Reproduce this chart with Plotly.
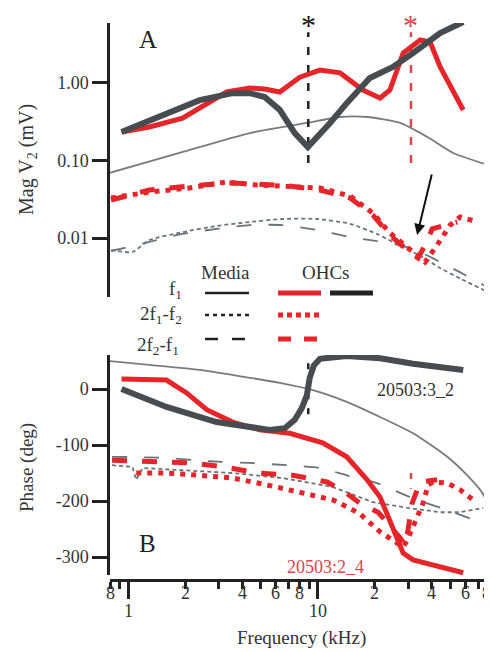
import math
import plotly.graph_objects as go

# ---------------- data ----------------
# Panel A: magnitude (mV) vs frequency (kHz)
freq_mag_ohc_dark = [0.92, 1.59, 2.38, 3.55, 4.37, 5.24, 6.29, 7.55, 8.85, 11.6, 14.2, 18.8, 24.9, 31.8, 44.2, 58.5]
mag_f1_ohc_dark = [0.233, 0.41, 0.60, 0.74, 0.74, 0.66, 0.45, 0.226, 0.149, 0.305, 0.55, 1.16, 1.61, 2.44, 4.42, 6.12]

freq_mag_ohc_red = [0.92, 1.29, 1.93, 2.59, 3.30, 4.37, 5.24, 6.29, 8.03, 10.25, 13.1, 17.3, 21.3, 24.0, 28.2, 34.7, 39.1, 44.2, 49.9, 58.5]
mag_f1_ohc_red = [0.233, 0.271, 0.353, 0.552, 0.765, 0.861, 0.837, 0.765, 1.19, 1.47, 1.35, 0.812, 0.640, 0.812, 2.44, 3.59, 3.38, 1.61, 0.942, 0.448]

freq_mag_media_f1 = [0.79, 1.86, 4.37, 8.75, 13.1, 18.2, 27.2, 37.8, 51.8, 79.3]
mag_f1_media = [0.069, 0.125, 0.226, 0.305, 0.364, 0.364, 0.305, 0.201, 0.125, 0.0875]

freq_mag_ohc_2f1f2 = [0.81, 1.29, 2.10, 3.30, 4.75, 7.11, 10.25, 14.8, 19.5, 24.0, 29.6, 33.8, 36.8, 42.6, 49.9, 56.4, 69.4]
mag_2f1f2_ohc = [0.0328, 0.0392, 0.0442, 0.0528, 0.0483, 0.0455, 0.0442, 0.0348, 0.0210, 0.0116, 0.0077, 0.0057, 0.0049, 0.0081, 0.0147, 0.0187, 0.0161]

freq_mag_ohc_2f2f1 = [0.81, 1.29, 2.10, 3.30, 4.75, 7.11, 10.25, 14.8, 19.5, 24.0, 29.6, 33.8, 36.8, 40.1, 49.9, 54.4]
mag_2f2f1_ohc = [0.0309, 0.0416, 0.0469, 0.0513, 0.0497, 0.0469, 0.0416, 0.0328, 0.0198, 0.0109, 0.0070, 0.0055, 0.0081, 0.0131, 0.0152, 0.0161]

freq_mag_media_2f1f2 = [0.81, 1.05, 1.29, 1.93, 2.92, 4.37, 6.53, 9.88, 14.8, 20.5, 27.2, 34.7, 44.2, 56.4, 79.3]
mag_2f1f2_media = [0.0070, 0.0066, 0.0094, 0.0119, 0.0143, 0.0161, 0.0176, 0.0176, 0.0152, 0.0113, 0.0079, 0.0059, 0.0041, 0.0030, 0.0020]

freq_mag_media_2f2f1 = [0.81, 1.29, 1.93, 2.92, 4.37, 6.53, 9.88, 14.8, 20.5, 27.2, 34.7, 44.2, 56.4, 79.3]
mag_2f2f1_media = [0.0068, 0.0089, 0.0113, 0.0131, 0.0147, 0.0147, 0.0127, 0.0103, 0.0091, 0.0081, 0.0066, 0.0049, 0.0036, 0.0023]

# Panel B: phase (deg) vs frequency (kHz)
freq_ph_media_f1 = [0.79, 1.29, 2.38, 4.37, 6.29, 9.41, 14.2, 21.3, 31.8, 48.2, 61.4, 71.9, 79.3]
ph_f1_media = [50, 43, 34, 20, 11, -2, -23, -50, -79, -121, -154, -180, -204]

freq_ph_ohc_dark = [0.92, 1.59, 2.92, 4.37, 5.57, 6.69, 7.55, 8.23, 8.75, 9.06, 9.52, 10.25, 14.2, 21.3, 31.8, 58.5]
ph_f1_ohc_dark = [0, -32, -59, -68, -73, -70, -55, -34, -11, 20, 42, 54, 59, 55, 45, 34]

freq_ph_ohc_red = [0.92, 1.59, 2.03, 2.59, 3.55, 4.37, 4.93, 7.11, 10.6, 14.2, 18.2, 21.3, 24.0, 26.2, 28.2, 31.8, 44.2, 58.5]
ph_f1_ohc_red = [18, 16, -7, -37, -59, -68, -73, -79, -96, -121, -162, -193, -234, -264, -293, -305, -318, -328]

freq_ph_ohc_2f1f2 = [1.10, 1.59, 2.38, 3.55, 5.37, 8.03, 12.0, 14.4, 16.7, 21.3, 24.9, 28.2, 29.6, 31.4, 33.4, 35.9, 38.2, 40.6, 48.2, 56.4, 66.1]
ph_2f1f2_ohc = [-150, -150, -154, -159, -171, -184, -198, -211, -223, -255, -270, -282, -270, -248, -229, -204, -171, -166, -168, -180, -198]

freq_ph_ohc_2f2f1 = [0.82, 1.37, 2.10, 3.22, 4.81, 7.38, 11.2, 13.9, 16.7, 20.8, 24.0, 27.2, 28.8, 29.9, 31.4, 34.7, 42.6]
ph_2f2f1_ohc = [-127, -130, -132, -139, -150, -154, -166, -184, -204, -220, -243, -266, -279, -252, -204, -166, -162]

freq_ph_media_2f2f1 = [0.82, 1.59, 2.68, 4.37, 6.84, 10.25, 14.2, 20.5, 24.9, 33.4, 48.2, 78.4]
ph_2f2f1_media = [-121, -123, -129, -132, -136, -141, -154, -168, -180, -198, -216, -243]

freq_ph_media_2f1f2 = [0.82, 1.05, 1.10, 1.19, 1.93, 3.55, 6.53, 12.0, 19.5, 29.6, 44.2, 56.4, 74.6]
ph_2f1f2_media = [-136, -139, -162, -141, -145, -150, -159, -175, -202, -212, -220, -220, -212]

# marker frequencies (asterisks) and their dashed lines
star_freq_dark = 8.9
star_freq_red = 31.0
star_mag_span = [0.093, 4.5]
star_ph_span_dark = [46, -61]
star_ph_span_red = [-150, -178]

x_major_ticks = [1, 10]
x_major_labels = ["1", "10"]
x_minor_ticks = [0.8, 0.9, 2, 3, 4, 5, 6, 7, 8, 9, 20, 30, 40, 50, 60, 70, 80]
x_minor_label_vals = [0.8, 2, 4, 6, 8, 20, 40, 60, 80]
x_minor_labels = ["8", "2", "4", "6", "8", "2", "4", "6", "8"]
mag_ticks = [0.01, 0.1, 1]
mag_tick_labels = ["0.01", "0.10", "1.00"]
ph_ticks = [0, -100, -200, -300]
ph_tick_labels = ["0", "-100", "-200", "-300"]

# ---------------- styling ----------------
# the page body has an 8px margin, so the figure occupies 484x644 starting at (8, 8)
OFF = 8
W, H = 492 - OFF, 652 - OFF
def px(x):
    return (x - OFF) / W
def py(y):
    return 1 - (y - OFF) / H

RED = "#e6252a"
RED_TXT = "#e0414b"
DARK = "#464c50"
GRAY = "#7b7b7b"
BGRAY = "#6b747a"
AX = "#222222"
FONT = "Liberation Serif"

DOT_THICK = "5px,6px"
DASH_THICK = "15px,15px"
DOT_THIN = "4px,3px"
DASH_THIN = "15px,17px"

fig = go.Figure()

def add(x, y, color, width, dash, xa, ya, shape="linear"):
    fig.add_trace(go.Scatter(
        x=x, y=y, mode="lines",
        line=dict(color=color, width=width, dash=dash, shape=shape, smoothing=0.6),
        xaxis=xa, yaxis=ya, hoverinfo="skip", showlegend=False))

# ---- Panel A ----
add(freq_mag_media_f1, mag_f1_media, GRAY, 1.8, "solid", "x", "y", "spline")
add(freq_mag_media_2f2f1, mag_2f2f1_media, BGRAY, 1.8, DASH_THIN, "x", "y", "spline")
add(freq_mag_media_2f1f2, mag_2f1f2_media, BGRAY, 1.8, DOT_THIN, "x", "y", "spline")
add(freq_mag_ohc_2f2f1, mag_2f2f1_ohc, RED, 5, DASH_THICK, "x", "y")
add(freq_mag_ohc_2f1f2, mag_2f1f2_ohc, RED, 5, DOT_THICK, "x", "y")
add([star_freq_dark, star_freq_dark], star_mag_span, AX, 2.5, "8px,10px", "x", "y")
add([star_freq_red, star_freq_red], star_mag_span, "#d9464c", 2.5, "8px,10px", "x", "y")
add(freq_mag_ohc_red, mag_f1_ohc_red, RED, 5, "solid", "x", "y")
add(freq_mag_ohc_dark, mag_f1_ohc_dark, DARK, 6, "solid", "x", "y")

# ---- Panel B ----
add(freq_ph_media_f1, ph_f1_media, GRAY, 1.8, "solid", "x2", "y2", "spline")
add(freq_ph_media_2f2f1, ph_2f2f1_media, BGRAY, 1.8, DASH_THIN, "x2", "y2", "spline")
add(freq_ph_media_2f1f2, ph_2f1f2_media, BGRAY, 1.8, DOT_THIN, "x2", "y2")
add(freq_ph_ohc_2f2f1, ph_2f2f1_ohc, RED, 5, DASH_THICK, "x2", "y2")
add(freq_ph_ohc_2f1f2, ph_2f1f2_ohc, RED, 5, DOT_THICK, "x2", "y2")
add([star_freq_dark, star_freq_dark], star_ph_span_dark, AX, 2.5, "6px,9px", "x2", "y2")
add([star_freq_red, star_freq_red], star_ph_span_red, "#d9464c", 2.5, "6px,9px", "x2", "y2")
add(freq_ph_ohc_red, ph_f1_ohc_red, RED, 5, "solid", "x2", "y2")
add(freq_ph_ohc_dark, ph_f1_ohc_dark, DARK, 6, "solid", "x2", "y2")

xdom = [px(110), px(489)]
xrange = [math.log10(0.8), math.log10(80)]

fig.update_layout(
    width=W, height=H,
    margin=dict(l=0, r=0, t=0, b=0),
    paper_bgcolor="white", plot_bgcolor="rgba(0,0,0,0)",
    font=dict(family=FONT, size=18, color=AX),
    showlegend=False,
    xaxis=dict(domain=xdom, type="log", range=xrange, visible=False, anchor="y"),
    yaxis=dict(domain=[py(297), py(23)], type="log", range=[-2.761, 0.774], anchor="x",
               showline=True, linecolor=AX, linewidth=2.5, ticks="outside", ticklen=15,
               tickwidth=2.5, tickcolor=AX, tickvals=mag_ticks, ticktext=mag_tick_labels,
               tickfont=dict(size=18, family=FONT, color="#333"), showgrid=False, zeroline=False),
    xaxis2=dict(domain=xdom, type="log", range=xrange, anchor="free", position=py(580),
                showline=True, linecolor=AX, linewidth=2.5, ticks="outside", ticklen=17,
                tickwidth=2.5, tickcolor=AX, tickvals=x_major_ticks, showticklabels=False,
                minor=dict(tickvals=x_minor_ticks, ticks="outside", ticklen=7, tickwidth=2.5,
                           tickcolor=AX, showgrid=False),
                showgrid=False, zeroline=False),
    yaxis2=dict(domain=[py(575), py(355)], range=[-332, 60.7], anchor="x2",
                showline=True, linecolor=AX, linewidth=2.5, ticks="outside", ticklen=15,
                tickwidth=2.5, tickcolor=AX, tickvals=ph_ticks, ticktext=ph_tick_labels,
                tickfont=dict(size=18, family=FONT, color="#333"), showgrid=False, zeroline=False),
)

ann = []
def text(x, y, s, size=18, color="#333", xanchor="center", yanchor="middle", angle=0,
         xref="paper", yref="paper", xshift=0):
    ann.append(dict(x=x, y=y, text=s, showarrow=False, xref=xref, yref=yref,
                    xanchor=xanchor, yanchor=yanchor, textangle=angle, xshift=xshift,
                    font=dict(family=FONT, size=size, color=color)))

# x tick labels (kept just inside the axis range so none is hidden as off-axis)
def xlab_pos(v):
    return min(max(math.log10(v), xrange[0] + 1e-4), xrange[1] - 1e-4)

for v, lab in zip(x_minor_label_vals, x_minor_labels):
    text(xlab_pos(v), py(593), lab, xref="x2", xshift=(-2 if v == 80 else 0))
for v, lab in zip(x_major_ticks, x_major_labels):
    text(xlab_pos(v), py(611), lab, xref="x2")

# axis titles
text(px(301), py(638), "Frequency (kHz)", size=19)
text(px(27), py(160), "Mag V<sub>2</sub> (mV)", size=20, angle=-90)
text(px(27), py(468), "Phase (deg)", size=19, angle=-90)

# panel letters
text(px(148), py(40), "A", size=25, color="#222")
text(px(147), py(543), "B", size=25, color="#222")

# cell labels
text(px(415), py(390), "20503:3_2", size=18, color="#333")
text(px(325), py(567), "20503:2_4", size=18, color=RED_TXT)

# asterisks
text(math.log10(star_freq_dark), py(24), "*", size=30, color="#111", xref="x")
text(math.log10(star_freq_red), py(24), "*", size=30, color="#e0414b", xref="x")

# legend texts
text(px(225), py(272), "Media", size=19)
text(px(326), py(272), "OHCs", size=19)
text(px(184), py(290), "f<sub>1</sub>", size=19, xanchor="right")
text(px(184), py(315), "2f<sub>1</sub>-f<sub>2</sub>", size=19, xanchor="right")
text(px(181), py(346), "2f<sub>2</sub>-f<sub>1</sub>", size=19, xanchor="right")

# arrow pointing to the notch
ann.append(dict(x=math.log10(33.4), y=-1.961, xref="x", yref="y", ax=15, ay=-62,
                showarrow=True, arrowhead=2, arrowsize=1.1, arrowwidth=2, arrowcolor="#111", text=""))

fig.update_layout(annotations=ann)

# legend swatches
def seg(x0, x1, y, color, width, dash):
    return dict(type="line", xref="paper", yref="paper", x0=px(x0), x1=px(x1), y0=py(y), y1=py(y),
                line=dict(color=color, width=width, dash=dash))

shapes = [
    seg(205, 249, 293, AX, 2.5, "solid"),
    seg(278, 321, 293, RED, 5, "solid"),
    seg(330, 373, 293, "#222", 5, "solid"),
    seg(205, 249, 315, AX, 2.5, "4px,4px"),
    seg(278, 321, 315, RED, 5, "5px,4px"),
    seg(205, 249, 339, AX, 2.5, "13px,14px"),
    seg(278, 321, 339, RED, 5, "13px,13px"),
]
fig.update_layout(shapes=shapes)

fig.write_html("out.html")
